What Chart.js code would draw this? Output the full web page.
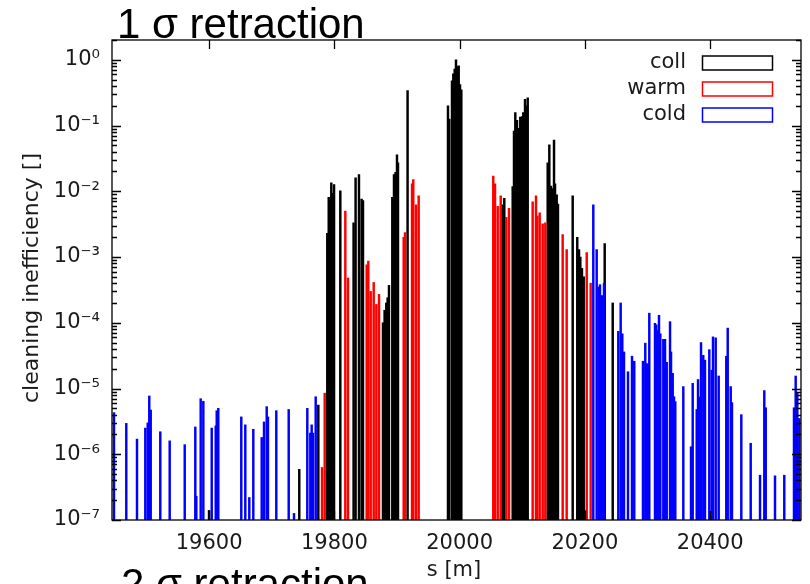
<!DOCTYPE html>
<html>
<head>
<meta charset="utf-8">
<script src="https://cdn.jsdelivr.net/npm/chart.js@4.4.0/dist/chart.umd.min.js"></script>
<style>
  body { margin: 0; background: #fff; }
  canvas { display: block; }
</style>
</head>
<body>
<canvas id="chart" width="810" height="584"></canvas>
<script>
// s [m] and cleaning inefficiency for each element type
const collS = [19599.9, 19744, 19774.4, 19788.7, 19791, 19793.1, 19795.1, 19797.4, 19799.5, 19809.5,
    19830.7, 19833.9, 19839.3, 19843.5, 19845.7, 19877.6, 19880.2, 19882.9, 19885, 19887.2,
    19892.5, 19895.2, 19897.7, 19900, 19901.6, 19916.9,
    19981.4, 19983.5, 19987.8, 19989.9, 19992.1, 19994.2, 19996.3, 19998.5, 20000.6, 20002.7,
    20067.6, 20071.3, 20084.7, 20086.8, 20088.9, 20091.6, 20094.3, 20096.8, 20099.6, 20101.6,
    20104.4, 20106, 20108.7, 20140.6, 20143.2, 20145.9, 20148.3, 20150.7, 20152.3, 20155, 20157,
    20180.5, 20187.8, 20190.6, 20192.7, 20195.3, 20198.1, 20200.6, 20231.6, 20244.4];
const collV = [1.4e-7, 5.9e-7, 5.6e-6, 2.3e-3, 8.1e-3, 7.4e-3, 1.35e-2, 9.3e-3, 1.26e-2, 1.02e-2,
    3.3e-3, 1.6e-2, 1.8e-2, 7.6e-3, 7.2e-3, 1e-4, 1.55e-4, 2e-4, 2.4e-4, 3.7e-4,
    8.1e-3, 1.8e-2, 1.95e-2, 3.6e-2, 2.7e-2, 0.34,
    0.2, 0.125, 0.48, 0.61, 0.72, 1.0, 0.79, 0.81, 0.42, 0.35,
    6.2e-3, 7.8e-3, 1.18e-2, 8.2e-2, 0.157, 0.12, 0.091, 0.135, 0.137, 0.158,
    0.25, 0.2, 0.265, 2.7e-2, 5.1e-2, 1.2e-2, 1.1e-2, 6e-2, 1.3e-2, 8.8e-3, 6.4e-3,
    8.5e-3, 2e-3, 1.3e-3, 1e-3, 6.7e-4, 5e-4, 1.4e-7, 1.6e-3, 2e-4];

const warmS = [19780.3, 19784.6, 19817.5, 19821.8, 19851.6, 19854.2, 19858, 19862.8, 19867, 19871.3,
    19910.7, 19912.8, 19924, 19926, 19930.3, 19934.6,
    20053.7, 20056.5, 20060.8, 20065.6, 20074.5, 20078.8,
    20116.6, 20121.9, 20124, 20127.8, 20132.6, 20136.8, 20164.5, 20170.9, 20202.9, 20209.2];
const warmV = [6.3e-7, 8.5e-6, 5e-3, 4.8e-4, 7.6e-4, 8.7e-4, 3e-4, 4.1e-4, 1.9e-4, 2.7e-4,
    2e-3, 2.35e-3, 1.3e-2, 1.5e-2, 6.2e-3, 8.5e-3,
    1.7e-2, 1.3e-2, 5.9e-3, 8.5e-3, 4e-3, 5.5e-3,
    6.9e-3, 8.5e-3, 4.2e-3, 4.7e-3, 3.2e-3, 3.3e-3, 2.2e-3, 1.3e-3, 1.17e-3, 4e-4];

const coldS = [19448.2, 19467.8, 19484.9, 19498.2, 19502, 19504.5, 19506.8, 19522.1, 19537.1, 19561.1,
    19578, 19579.6, 19586.6, 19590.8, 19604.2, 19610.6, 19612.2, 19614.7, 19651.4, 19657.8,
    19664.2, 19670.6, 19684, 19687.7, 19692, 19694, 19707.3, 19727.1, 19735.6, 19756.8,
    19761.6, 19763.8, 19765.9, 19770.2,
    20213.4, 20218.8, 20222, 20224.1, 20227.3, 20230.5, 20253.3, 20257.1, 20259.7, 20262.4,
    20268.8, 20275.2, 20278.8, 20292.7, 20296.4, 20298.6, 20300.7, 20302.8, 20311.9, 20314,
    20316.2, 20318.3, 20320.4, 20325.2, 20327.9, 20330.6, 20335.9, 20337.5, 20340.2, 20342.3,
    20344.3, 20357.1, 20369.4, 20372.1, 20378.5, 20380.6, 20382.6, 20385.4, 20389, 20391.7,
    20398.6, 20402.4, 20404.5, 20408.8, 20413.6, 20425.7, 20428, 20432.8, 20434.8, 20449.7,
    20464.7, 20479.6, 20486.4, 20488.7, 20503.5, 20518.3, 20533.8, 20536.5, 20539.1, 20542.3];
const coldV = [4.3e-6, 2.95e-6, 1.7e-6, 2.5e-6, 3e-6, 7.7e-6, 4.7e-6, 2.2e-6, 1.6e-6, 1.4e-6,
    2.6e-6, 2.3e-7, 7e-6, 6.4e-6, 2.5e-6, 2.7e-6, 4.6e-6, 5e-6, 3.7e-6, 2.8e-6,
    2.2e-7, 2.4e-6, 1.8e-6, 3.1e-6, 5.3e-6, 3.7e-6, 4.6e-6, 4.8e-6, 1.26e-7, 5e-6,
    2.1e-6, 2.8e-6, 2.1e-6, 7.5e-6,
    6.2e-3, 1.3e-3, 3.5e-4, 3.8e-4, 2.6e-4, 4e-4, 7.4e-5, 2e-4, 6.8e-5, 3.6e-5,
    1.8e-5, 3.1e-5, 2.6e-5, 2.6e-5, 4.9e-5, 2.4e-5, 2.3e-5, 1.4e-4, 9.8e-5, 9.3e-5,
    7.6e-5, 1.3e-4, 6.8e-5, 5.6e-5, 5.6e-5, 2.5e-5, 1.04e-4, 3.6e-5, 1.7e-5, 7.5e-6,
    6.3e-6, 1.07e-5, 1.3e-6, 1.2e-5, 4.8e-6, 1.37e-5, 7.4e-6, 5e-5, 3.2e-5, 2.7e-5,
    3.9e-5, 1.9e-5, 6.1e-5, 5.9e-5, 1.55e-5, 3.1e-5, 8.3e-5, 1.07e-5, 6.1e-6, 4e-6,
    1.47e-6, 4.8e-7, 9.3e-6, 5.1e-6, 4.7e-7, 4.8e-7, 5.1e-6, 1.55e-5, 8.5e-6, 3.5e-6];

const xTicks = [19600, 19800, 20000, 20200, 20400];
const yTicks = [1e-7, 1e-6, 1e-5, 1e-4, 1e-3, 1e-2, 1e-1, 1];

const SUP = { '-': '⁻', '0': '⁰', '1': '¹', '2': '²', '3': '³', '4': '⁴', '5': '⁵', '6': '⁶', '7': '⁷', '8': '⁸', '9': '⁹' };
function powLabel(v) {
    const e = String(Math.round(Math.log10(v)));
    return '10' + e.split('').map(c => SUP[c]).join('');
}

function pts(s, v) {
    return s.map((x, i) => ({ x: x, y: v[i] }));
}

// gnuplot style frame with inward ticks on all four sides
const framePlugin = {
    id: 'frame',
    afterDatasetsDraw(chart) {
        const { ctx, chartArea: a, scales: { x, y } } = chart;
        ctx.save();
        ctx.strokeStyle = '#000';
        ctx.lineWidth = 1.3;
        ctx.strokeRect(a.left, a.top, a.right - a.left, a.bottom - a.top);
        ctx.beginPath();
        xTicks.forEach(v => {
            const px = Math.round(x.getPixelForValue(v)) + 0.5;
            ctx.moveTo(px, a.bottom); ctx.lineTo(px, a.bottom - 9);
            ctx.moveTo(px, a.top); ctx.lineTo(px, a.top + 9);
        });
        for (let e = -7; e <= 0; e++) {
            for (let m = 1; m < 10; m++) {
                const v = m * Math.pow(10, e);
                if (v > y.max) break;
                const py = Math.round(y.getPixelForValue(v)) + 0.5;
                const len = m === 1 ? 9 : 5;
                ctx.moveTo(a.left, py); ctx.lineTo(a.left + len, py);
                ctx.moveTo(a.right, py); ctx.lineTo(a.right - len, py);
            }
        }
        ctx.stroke();
        ctx.restore();
    }
};

// titles, axis labels and the key
const textPlugin = {
    id: 'texts',
    afterDraw(chart) {
        const { ctx } = chart;
        ctx.save();
        ctx.fillStyle = '#000';
        ctx.font = '42px "Liberation Sans", Arial, sans-serif';
        ctx.textAlign = 'left';
        ctx.textBaseline = 'alphabetic';
        ctx.fillText('1 σ retraction', 117, 38);
        ctx.fillText('2 σ retraction', 121, 598);

        ctx.font = '21px "DejaVu Sans", sans-serif';
        ctx.fillStyle = '#1a1a1a';
        ctx.textAlign = 'center';
        ctx.textBaseline = 'middle';
        ctx.fillText('s [m]', 454, 571);
        ctx.save();
        ctx.translate(32, 278);
        ctx.rotate(-Math.PI / 2);
        ctx.font = '22px "DejaVu Sans", sans-serif';
        ctx.fillText('cleaning inefficiency []', 0, 0);
        ctx.restore();

        ctx.textAlign = 'right';
        chart.data.datasets.forEach((ds, i) => {
            const cy = 63 + i * 26;
            ctx.fillStyle = '#1a1a1a';
            ctx.fillText(ds.label, 686, cy);
            ctx.strokeStyle = ds.borderColor;
            ctx.lineWidth = 1.5;
            ctx.strokeRect(702.5, cy - 7, 70, 14);
        });
        ctx.restore();
    }
};

new Chart(document.getElementById('chart').getContext('2d'), {
    type: 'bar',
    data: {
        datasets: [
            { label: 'coll', data: pts(collS, collV), backgroundColor: '#000000', borderColor: '#000000', order: 3 },
            { label: 'warm', data: pts(warmS, warmV), backgroundColor: '#ff0000', borderColor: '#ff0000', order: 2 },
            { label: 'cold', data: pts(coldS, coldV), backgroundColor: '#0000ff', borderColor: '#0000ff', order: 1 }
        ]
    },
    options: {
        responsive: false,
        animation: false,
        devicePixelRatio: 1,
        barThickness: 1.8,
        grouped: false,
        borderSkipped: false,
        layout: { padding: { top: 40, right: 9, left: 0, bottom: 0 } },
        plugins: { legend: { display: false }, tooltip: { enabled: false } },
        scales: {
            x: {
                type: 'linear',
                min: 19445,
                max: 20545,
                offset: false,
                grid: { display: false, drawTicks: false },
                border: { display: false },
                afterBuildTicks: s => { s.ticks = xTicks.map(v => ({ value: v })); },
                afterFit: s => { s.height = 64; },
                ticks: {
                    padding: 11,
                    maxRotation: 0,
                    color: '#1a1a1a',
                    font: { family: 'DejaVu Sans', size: 21 },
                    callback: v => String(v)
                }
            },
            y: {
                type: 'logarithmic',
                min: 1e-7,
                max: 2,
                grid: { display: false, drawTicks: false },
                border: { display: false },
                afterBuildTicks: s => { s.ticks = yTicks.map(v => ({ value: v })); },
                afterFit: s => { s.width = 112; },
                ticks: {
                    padding: 12,
                    color: '#1a1a1a',
                    font: { family: 'DejaVu Sans', size: 21 },
                    callback: v => powLabel(v)
                }
            }
        }
    },
    plugins: [framePlugin, textPlugin]
});
</script>
</body>
</html>
